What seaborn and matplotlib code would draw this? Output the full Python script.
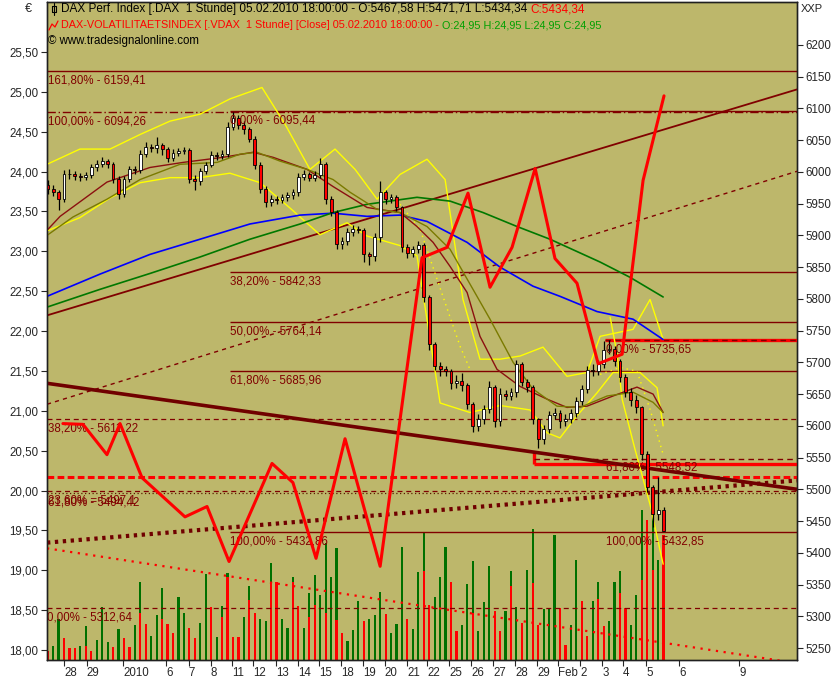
import matplotlib
matplotlib.use("Agg")
import matplotlib.pyplot as plt
import seaborn as sns
import numpy as np
import pandas as pd
from matplotlib.lines import Line2D

# ---------------- data ----------------
# DAX hourly candles, one every quarter trading day (day 0 = 28 Dec 2009)
dax_first_open = 5980
dax_close = [5973, 5968, 5957, 5996, 5996, 5993, 5992, 5995, 6007, 6012,
             6018, 6012, 5989, 5966, 5989, 6004, 6003, 6028, 6039, 6038,
             6042, 6036, 6022, 6030, 6033, 6034, 5989, 5985, 6001, 6011,
             6026, 6025, 6028, 6071, 6085, 6074, 6067, 6052, 6011, 5973,
             5952, 5957, 5956, 5960, 5963, 5968, 5992, 5996, 5991, 5995,
             6012, 5957, 5937, 5886, 5891, 5905, 5910, 5909, 5870, 5867,
             5897, 5968, 5957, 5960, 5944, 5881, 5872, 5878, 5885, 5803,
             5729, 5695, 5689, 5686, 5667, 5671, 5665, 5634, 5599, 5610,
             5626, 5661, 5607, 5650, 5647, 5653, 5697, 5669, 5661, 5610,
             5579, 5595, 5617, 5621, 5607, 5610, 5620, 5639, 5658, 5688,
             5686, 5697, 5719, 5721, 5702, 5677, 5653, 5640, 5629, 5555,
             5503, 5461, 5468, 5434]
dax_high = [5988, 5980, 5972, 6003, 6004, 6001, 5999, 6000, 6012, 6019,
            6024, 6021, 6015, 5993, 5994, 6010, 6009, 6034, 6047, 6044,
            6055, 6046, 6040, 6036, 6038, 6040, 6037, 5995, 6006, 6016,
            6033, 6031, 6035, 6078, 6095, 6090, 6080, 6071, 6056, 6016,
            5978, 5963, 5962, 5966, 5969, 5973, 5999, 6003, 6000, 6001,
            6022, 6015, 5962, 5940, 5897, 5911, 5916, 5915, 5912, 5874,
            5903, 5985, 5972, 5966, 5963, 5947, 5886, 5884, 5891, 5888,
            5806, 5732, 5701, 5695, 5690, 5680, 5684, 5668, 5637, 5618,
            5633, 5670, 5664, 5660, 5656, 5660, 5703, 5700, 5674, 5664,
            5613, 5602, 5623, 5628, 5625, 5618, 5627, 5646, 5664, 5694,
            5697, 5704, 5733, 5736, 5725, 5706, 5682, 5660, 5648, 5632,
            5560, 5507, 5520, 5472]
dax_low = [5966, 5962, 5940, 5952, 5989, 5987, 5986, 5987, 5991, 6002,
           6008, 6006, 5983, 5958, 5961, 5984, 5997, 5999, 6023, 6032,
           6030, 6027, 6016, 6018, 6025, 6028, 5982, 5972, 5980, 5996,
           6007, 6019, 6020, 6024, 6066, 6068, 6060, 6047, 6005, 5967,
           5945, 5946, 5950, 5951, 5954, 5957, 5962, 5987, 5985, 5986,
           5990, 5950, 5930, 5878, 5879, 5885, 5899, 5903, 5858, 5853,
           5860, 5890, 5950, 5951, 5938, 5874, 5864, 5866, 5872, 5795,
           5720, 5688, 5678, 5678, 5658, 5660, 5655, 5626, 5590, 5592,
           5603, 5620, 5598, 5600, 5640, 5641, 5646, 5662, 5654, 5603,
           5565, 5571, 5589, 5611, 5596, 5600, 5604, 5614, 5633, 5652,
           5679, 5680, 5691, 5713, 5694, 5669, 5646, 5632, 5620, 5546,
           5496, 5440, 5452, 5434]

# volume per candle (total) and its red part
vol_total = [9, 14, 41, 22, 12, 12, 14, 34, 9, 20, 53, 18, 13, 31, 22, 13, 35, 78, 36, 24,
             45, 72, 36, 27, 63, 47, 32, 22, 37, 86, 53, 23, 54, 87, 23, 23, 43, 74, 47, 41,
             39, 97, 78, 41, 32, 83, 54, 32, 67, 85, 65, 117, 83, 112, 27, 19, 30, 59, 39, 41,
             45, 68, 46, 27, 36, 113, 41, 31, 88, 127, 55, 63, 83, 113, 78, 29, 35, 76, 99, 29,
             58, 94, 49, 29, 49, 89, 53, 37, 90, 131, 35, 51, 51, 125, 52, 15, 35, 100, 59, 24,
             59, 78, 34, 39, 78, 89, 52, 35, 65, 150, 140, 155, 100, 125]
vol_red = [9, 0, 0, 22, 12, 12, 0, 14, 9, 0, 0, 0, 13, 0, 22, 13, 0, 47, 36, 0,
           0, 41, 36, 27, 0, 0, 32, 22, 0, 0, 53, 0, 43, 83, 23, 23, 0, 60, 47, 0,
           0, 78, 78, 0, 0, 78, 54, 0, 43, 55, 0, 47, 0, 40, 27, 0, 0, 0, 39, 0,
           0, 0, 46, 0, 0, 0, 41, 0, 0, 89, 55, 0, 0, 0, 78, 29, 0, 0, 47, 0,
           0, 0, 49, 29, 0, 74, 0, 37, 0, 77, 35, 0, 0, 0, 52, 15, 0, 0, 59, 24,
           0, 61, 34, 0, 0, 67, 52, 0, 0, 80, 140, 90, 0, 125]

# VDAX close (left axis)
vdax_day = [-0.05, 0.87, 1.97, 2.57, 3.58, 5.55, 6.56, 7.57, 9.54, 10.5, 11.56, 12.89, 14.5,
            16.42, 17.57, 18.53, 19.54, 20.55, 21.61, 22.52, 23.53, 24.5, 25.6, 26.01, 26.56, 27.52]
vdax_close = [20.84, 20.83, 20.45, 20.84, 20.16, 19.67, 19.80, 19.11, 20.34, 20.10, 19.15, 20.65, 19.05,
              22.92, 23.05, 23.73, 22.55, 23.05, 24.04, 22.91, 22.60, 21.59, 21.71, 22.66, 23.89, 24.95]

# moving averages (day, DAX)
ma_blue_day = [-0.78, 1.65, 3.94, 6.24, 8.53, 10.83, 12.34, 13.9, 15.41, 16.65, 18.49, 20.0, 21.51, 22.75, 24.45, 26.1, 27.48]
ma_blue = [5804, 5839, 5870, 5894, 5918, 5932, 5935, 5930, 5932, 5922, 5889, 5850, 5820, 5804, 5780, 5768, 5736]
ma_green_day = [-0.78, 1.65, 3.94, 6.24, 8.53, 10.83, 12.34, 13.9, 16.19, 17.71, 19.22, 20.78, 22.29, 24.59, 25.96, 27.48]
ma_green = [5787, 5815, 5840, 5866, 5894, 5918, 5936, 5949, 5960, 5954, 5936, 5914, 5894, 5858, 5834, 5803]
ma_red_day = [-0.78, -0.18, 1.97, 3.94, 5.46, 7.29, 8.67, 9.59, 11.15, 12.34, 13.9, 15.41, 16.19, 16.93,
              17.71, 18.49, 19.08, 19.86, 20.92, 22.16, 23.07, 23.99, 25.18, 26.28, 27.02, 27.48]
ma_red = [5908, 5930, 5984, 6007, 6015, 6023, 6031, 6023, 6004, 5977, 5944, 5936, 5914, 5889,
          5851, 5810, 5741, 5689, 5662, 5642, 5629, 5631, 5647, 5661, 5650, 5621]
ma_olive_day = [-0.78, 0.41, 1.97, 3.49, 5.32, 7.02, 8.07, 8.85, 9.91, 11.15, 12.34, 13.12, 14.36, 15.41,
                16.65, 17.71, 18.76, 19.54, 20.6, 21.51, 22.61, 23.67, 24.91, 26.1, 27.02, 27.48]
ma_olive = [5900, 5929, 5957, 5988, 6012, 6015, 6028, 6031, 6017, 6004, 5988, 5968, 5941, 5936,
            5914, 5878, 5815, 5768, 5700, 5658, 5631, 5629, 5647, 5653, 5637, 5621]

# bands (yellow)
band_up_day = [-0.78, 0.73, 2.11, 3.49, 4.86, 6.24, 7.61, 9.08, 10.14, 11.28, 12.43, 13.35, 14.36, 15.41,
               16.65, 17.48, 18.3, 19.08, 20.0, 20.92, 21.97, 23.07, 23.99, 24.59, 26.1, 26.88, 27.48]
band_up = [6012, 6036, 6036, 6059, 6080, 6091, 6115, 6133, 6075, 6004, 6036, 6004, 5957, 5996,
           6020, 5988, 5799, 5705, 5705, 5710, 5724, 5678, 5684, 5741, 5752, 5799, 5736]
band_lo_day = [-0.78, 0.73, 2.11, 3.49, 4.86, 6.24, 7.61, 9.0, 10.37, 11.74, 12.98, 13.9, 15.41, 16.19,
               17.25, 18.62, 20.0, 21.38, 22.16, 22.75, 23.53, 24.45, 25.18, 26.42, 27.2, 27.48]
band_lo = [5907, 5928, 5959, 5983, 5991, 5991, 5998, 5983, 5943, 5901, 5920, 5899, 5884, 5868,
           5636, 5621, 5632, 5625, 5589, 5581, 5616, 5652, 5684, 5684, 5660, 5600]
band_end_day = [25.05, 25.37, 25.6, 26.19, 26.88, 27.48]
band_end = [5771, 5713, 5642, 5563, 5476, 5382]
band_dot1_day = [15.41, 16.33, 17.11, 18.17, 18.62]
band_dot1 = [5949, 5910, 5831, 5725, 5689]
band_dot2_day = [24.59, 25.5, 26.28, 26.88, 27.48]
band_dot2 = [5681, 5692, 5686, 5626, 5555]

# trend lines: (day0, day1), (DAX0, DAX1)
chan_up = ([-0.78, 33.62], [5774, 6130])
chan_dash = ([-0.78, 33.62], [5634, 6001])
trend_down = ([-0.78, 33.62], [5667, 5500])
trend_dotted = ([-0.78, 33.62], [5416, 5514])
trend_red_dots = ([-0.78, 33.62], [5407, 5226])

# fibonacci levels
fib_solid = [6159.41, 6095.44, 5842.33, 5764.14, 5685.96, 5432.86]
fib_solid_start = [-0.78, 7.61, 7.61, 7.61, 7.61, 7.61]
fib_dashed = [5611.22, 5497.10, 5312.64]
fib_dotted = [5494.42]
fib_dashdot = [6094.26]
fibc_levels = [5735.65, 5548.52]
fibc_start = [24.82, 21.56]
fib_labels = [(-0.73, 6159.41, "161,80% - 6159,41"), (-0.73, 6094.26, "100,00% - 6094,26"),
              (7.63, 6095.44, "0,00% - 6095,44"), (7.63, 5842.33, "38,20% - 5842,33"),
              (7.63, 5764.14, "50,00% - 5764,14"), (7.63, 5685.96, "61,80% - 5685,96"),
              (-0.73, 5611.22, "38,20% - 5611,22"), (-0.73, 5497.10, "23,60% = 5497,1"),
              (-0.73, 5494.42, "61,80% - 5494,42"), (7.63, 5432.86, "100,00% - 5432,86"),
              (-0.80, 5312.64, "0,00% - 5312,64"), (24.84, 5735.65, "0,00% - 5735,65"),
              (24.84, 5548.52, "61,80% - 5548,52"), (24.84, 5432.85, "100,00% - 5432,85")]
red_level = 5519
red_box = ([21.56, 33.62], 5540.5, 5560)
red_top = ([24.82, 33.62], 5735.65)

tick_days = [0, 1.05, 2.71, 4.68, 5.73, 6.74, 7.71, 8.67, 9.72, 10.73, 11.7, 12.7, 13.7, 14.7,
             15.73, 16.65, 17.66, 18.67, 19.68, 20.69, 21.7, 22.66, 23.67, 24.68, 25.64, 26.7, 28.21, 30.96]
tick_names = ["28", "29", "2010", "6", "7", "8", "11", "12", "13", "14", "15", "18", "19", "20",
              "21", "22", "25", "26", "27", "28", "29", "Feb", "2", "3", "4", "5", "6", "9"]
vdax_ticks = [18.0, 18.5, 19.0, 19.5, 20.0, 20.5, 21.0, 21.5, 22.0, 22.5, 23.0, 23.5, 24.0, 24.5, 25.0, 25.5]
dax_ticks = list(range(5250, 6201, 50))

# ---------------- figure ----------------
sns.set_style("ticks")
plt.rcParams['font.family'] = ['Liberation Sans', 'DejaVu Sans']

W, H = 840, 680
BG = '#BDB76B'
DR = '#800000'
fig = plt.figure(figsize=(W / 100, H / 100), dpi=100)
ax_vol = fig.add_axes([47 / W, 20 / H, 750 / W, 658 / H])
ax_vol.set_facecolor(BG)
ax = ax_vol.twinx()
axv = ax_vol.twinx()

XMIN, XMAX = -0.78, 33.62
ax_vol.set_xlim(XMIN, XMAX)
ax_vol.set_ylim(0, 658)
ax.set_ylim(5231.1, 6267.7)
axv.set_ylim(17.875, 26.127)

# volume
n = len(dax_close)
xs = -0.75 + 0.25 * np.arange(n)
ax_vol.bar(xs, vol_total, width=0.1, color='#007000', linewidth=0, zorder=1)
ax_vol.bar(xs, vol_red, width=0.1, color='#FF0000', linewidth=0, zorder=2)

# horizontal levels
for lv, st in zip(fib_solid, fib_solid_start):
    ax.hlines(lv, st, XMAX, color=DR, lw=1.0, zorder=2)
for lv in fib_dashdot:
    ax.hlines(lv, XMIN, XMAX, color=DR, lw=1.0, linestyles=(0, (6, 2, 1, 2)), zorder=2)
for lv in fib_dashed:
    ax.hlines(lv, XMIN, XMAX, color=DR, lw=0.9, linestyles=(0, (4, 3)), zorder=2)
for lv in fib_dotted:
    ax.hlines(lv, XMIN, XMAX, color='#5A1A00', lw=0.9, linestyles=(0, (1, 2)), zorder=2)
ax.hlines(red_top[1], red_top[0][0], red_top[0][1], color='#FF0000', lw=2.4, zorder=3)
ax.hlines(red_box[1], red_box[0][0], red_box[0][1], color='#FF0000', lw=2.4, zorder=3)
ax.vlines(red_box[0][0], red_box[1], red_box[2], color='#FF0000', lw=2.4, zorder=3)
for lv, st in zip(fibc_levels, fibc_start):
    ax.hlines(lv, st, XMAX, color=DR, lw=1.0, linestyles=(0, (4, 3)), zorder=3)
ax.hlines(red_level, XMIN, XMAX, color='#FF0000', lw=2.2, linestyles=(0, (2.2, 1.1)), zorder=3)

# trend lines
ax.plot(*chan_up, color=DR, lw=1.3, zorder=3)
ax.plot(*chan_dash, color=DR, lw=1.0, ls=(0, (3, 3)), zorder=3)
ax.plot(*trend_down, color='#700000', lw=2.6, zorder=3)
ax.plot(*trend_dotted, color='#700000', lw=3.0, ls=(0, (0.8, 1.1)), zorder=3)
ax.plot(*trend_red_dots, color='#FF0000', lw=1.6, ls=(0, (1, 2.5)), zorder=3)

# moving averages and bands
YEL = '#FFFF00'
sns.lineplot(x=band_up_day, y=band_up, ax=ax, color=YEL, lw=1.0, zorder=4)
sns.lineplot(x=band_lo_day, y=band_lo, ax=ax, color=YEL, lw=1.0, zorder=4)
sns.lineplot(x=band_end_day, y=band_end, ax=ax, color=YEL, lw=1.0, zorder=4)
sns.lineplot(x=band_dot1_day, y=band_dot1, ax=ax, color=YEL, lw=1.0, ls=(0, (1, 3)), zorder=4)
sns.lineplot(x=band_dot2_day, y=band_dot2, ax=ax, color=YEL, lw=1.0, ls=(0, (1, 3)), zorder=4)
sns.lineplot(x=ma_blue_day, y=ma_blue, ax=ax, color='#0000FF', lw=1.2, zorder=4)
sns.lineplot(x=ma_green_day, y=ma_green, ax=ax, color='#007800', lw=1.2, zorder=4)
sns.lineplot(x=ma_red_day, y=ma_red, ax=ax, color='#8B1010', lw=1.0, zorder=4)
sns.lineplot(x=ma_olive_day, y=ma_olive, ax=ax, color='#7A7A00', lw=1.0, zorder=4)

# candles
dax_open = [dax_first_open] + dax_close[:-1]
ax.vlines(xs, dax_low, dax_high, color='black', lw=0.9, zorder=5)
bottoms = np.minimum(dax_open, dax_close)
heights = np.maximum(np.abs(np.array(dax_close) - np.array(dax_open)), 1.5)
cols = ['white' if c >= o else '#FF0000' for o, c in zip(dax_open, dax_close)]
ax.bar(xs, heights, bottom=bottoms, width=0.13, color=cols, edgecolor='black', lw=0.6, zorder=6)

# VDAX
sns.lineplot(x=vdax_day, y=vdax_close, ax=axv, color='#FF0000', lw=2.2, zorder=7)

# fib labels
for xd, lv, txt in fib_labels:
    ax.annotate(txt, (xd, lv), xytext=(0, -2.5), textcoords='offset points',
                ha='left', va='top', fontsize=8.3, color=DR, zorder=8)

# axes styling
ax_vol.set_yticks([])
ax_vol.set_xticks(tick_days)
ax_vol.set_xticklabels(tick_names, ha='left', fontsize=8.3)
ax_vol.tick_params(axis='x', length=4, width=0.8, pad=1)
ax.yaxis.tick_right()
ax.set_yticks(dax_ticks)
ax.set_yticklabels([str(t) for t in dax_ticks], fontsize=8.3)
ax.tick_params(axis='y', length=4, width=0.8, pad=2)
axv.yaxis.tick_left()
axv.set_yticks(vdax_ticks)
axv.set_yticklabels([f"{t:.2f}".replace('.', ',') for t in vdax_ticks], fontsize=8.3)
axv.tick_params(axis='y', length=4, width=0.8, pad=2)
for a in (ax_vol, ax, axv):
    a.set_xlabel('')
    a.set_ylabel('')
    for s in a.spines.values():
        s.set_color('#202020')
        s.set_linewidth(0.9)
ax.set_xlim(XMIN, XMAX)

fig.text(28 / W, 1 - 9 / H, "€", fontsize=9, ha='center', va='center')
fig.text(812 / W, 1 - 9 / H, "XXP", fontsize=8, ha='center', va='center')

# header lines
renderer = fig.canvas.get_renderer()


def header(x_px, y_px, parts, size):
    x = x_px / W
    for txt, col in parts:
        t = fig.text(x, 1 - y_px / H, txt, color=col, fontsize=size, ha='left', va='center')
        x += (t.get_window_extent(renderer).width + 3) / W


header(61, 9, [("DAX Perf. Index [.DAX  1 Stunde] 05.02.2010 18:00:00 - O:5467,58 H:5471,71 L:5434,34", 'black'),
               ("C:5434,34", '#FF0000')], 8.45)
header(61, 25, [("DAX-VOLATILITAETSINDEX [.VDAX  1 Stunde] [Close] 05.02.2010 18:00:00 -", '#FF0000'),
                ("O:24,95 H:24,95 L:24,95 C:24,95", '#00A000')], 7.8)
header(48, 41, [("© www.tradesignalonline.com", 'black')], 8.3)

# legend icons
fig.add_artist(Line2D([54 / W, 54 / W], [1 - 3 / H, 1 - 15 / H], color='black', lw=0.8))
fig.add_artist(Line2D([52 / W, 56 / W, 56 / W, 52 / W, 52 / W],
                      [1 - 6 / H, 1 - 6 / H, 1 - 12 / H, 1 - 12 / H, 1 - 6 / H], color='black', lw=0.8))
fig.add_artist(Line2D([49 / W, 52 / W, 55 / W, 58 / W], [1 - 30 / H, 1 - 24 / H, 1 - 27 / H, 1 - 21 / H],
                      color='#FF0000', lw=0.9))

fig.savefig("out.png", dpi=100, facecolor='white')
